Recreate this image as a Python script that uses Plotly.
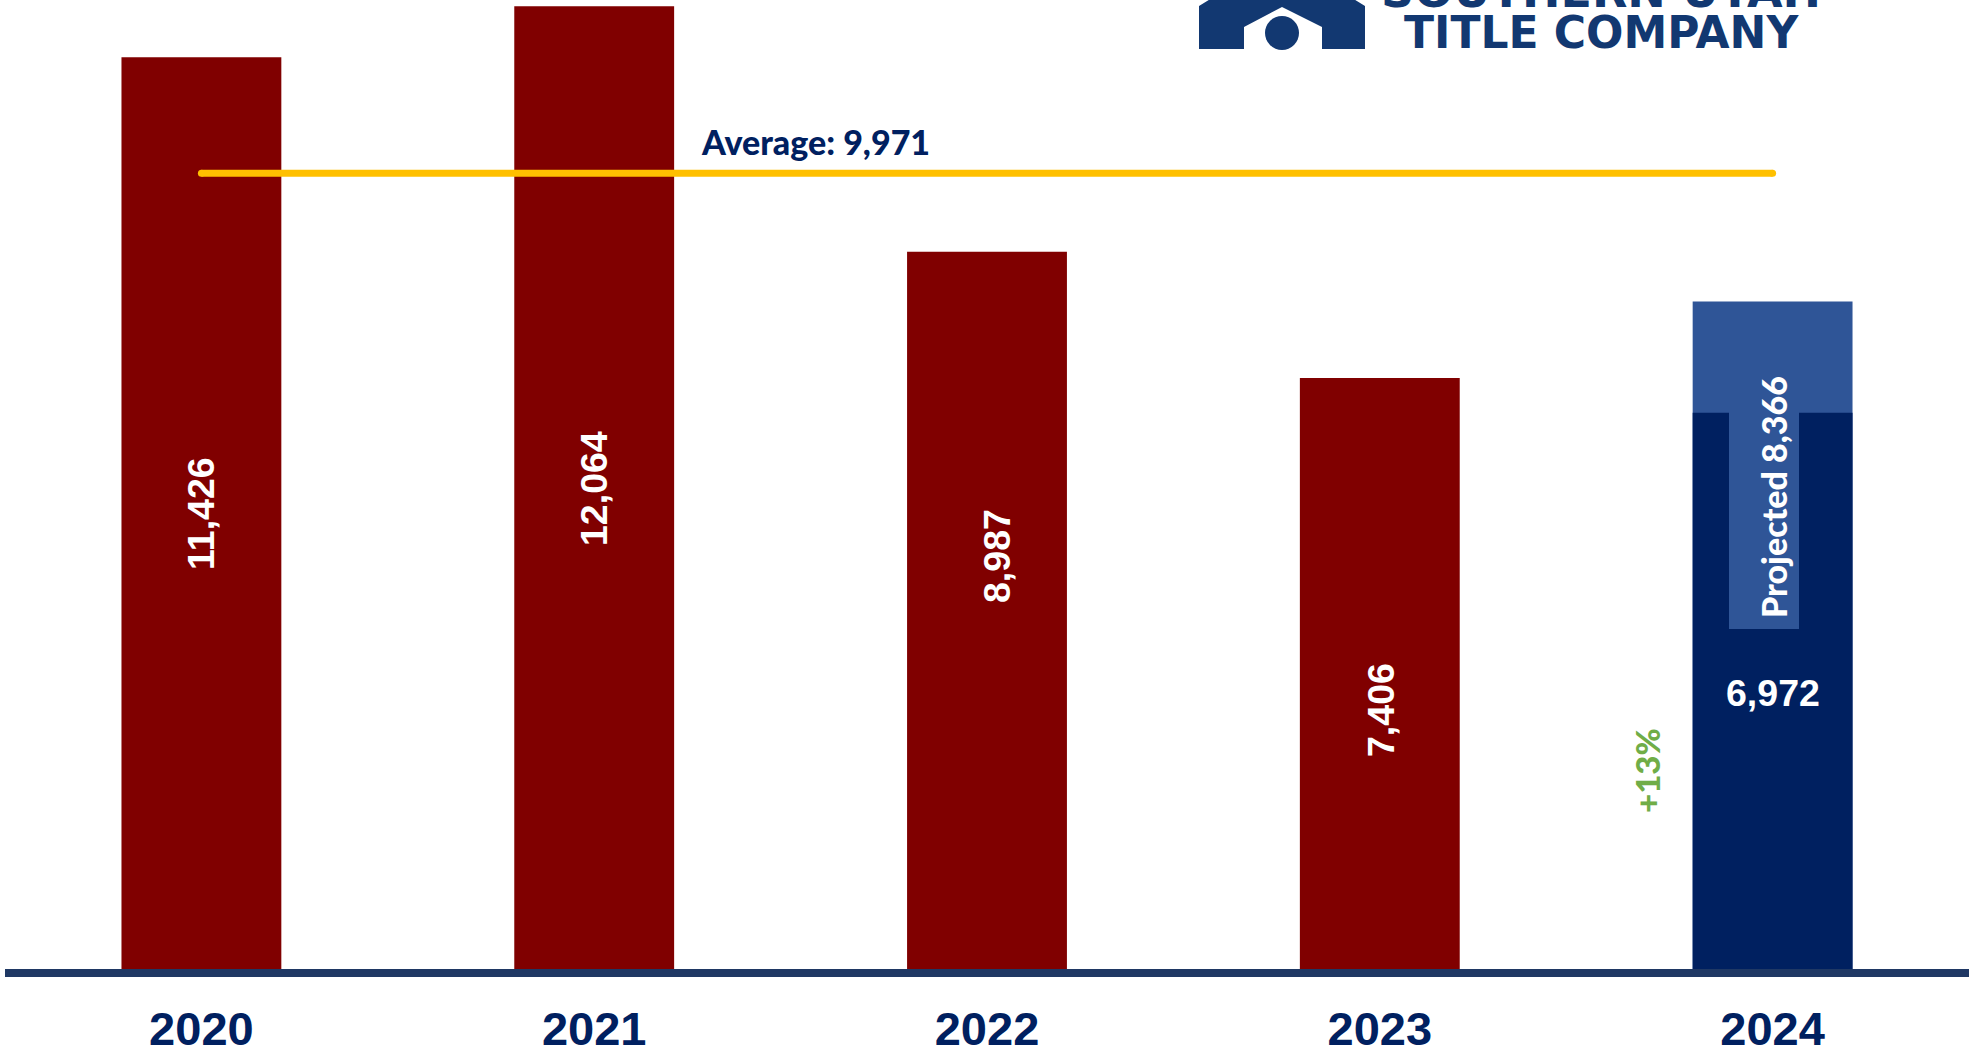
import plotly.graph_objects as go

# Closed-transaction counts by year
years = ["2020", "2021", "2022", "2023", "2024"]
closed = [11426, 12064, 8987, 7406]
closed_years = years[:4]
ytd_2024 = 6972
projected_2024 = 8366
average = 9971
avg_label = "Average: 9,971"
growth_label = "+13%"
bar_labels = ["11,426", "12,064", "8,987", "7,406"]

WIDTH, HEIGHT = 1980, 1050
LEFT, RIGHT, BASE = 5, 1969, 969
PX_PER_UNIT = 0.0798
MAROON, NAVY, MID_BLUE = "#800000", "#002060", "#2F5597"
LOGO_BLUE = "#123871"
SANS = "Liberation Sans, Arial, sans-serif"
HUMANIST = "Lato, Carlito, sans-serif"
LOGO_FONT = "DejaVu Sans, sans-serif"


def px(x):
    return (x - LEFT) / (RIGHT - LEFT)


def py(y):
    return 1 - y / BASE


def note(text, x, y, size, color, font=SANS, angle=0, weight="bold"):
    return dict(
        text=text, xref="paper", yref="paper", x=px(x), y=py(y),
        xanchor="center", yanchor="middle", showarrow=False, textangle=angle,
        font=dict(family=font, size=size, color=color, weight=weight),
    )


fig = go.Figure()
fig.add_bar(x=closed_years, y=closed, marker=dict(color=MAROON, line_width=0), width=0.407, hoverinfo="x+y")
fig.add_bar(x=[years[4]], y=[projected_2024], marker=dict(color=MID_BLUE, line_width=0), width=0.407, hoverinfo="x+y")
fig.add_bar(x=[years[4]], y=[ytd_2024], marker=dict(color=NAVY, line_width=0), width=0.407, hoverinfo="x+y")

# Five-year average, with dots on the ends for rounded caps
fig.add_scatter(
    x=[years[0], years[4]], y=[average, average], mode="lines+markers",
    line=dict(color="#FFC000", width=7), marker=dict(color="#FFC000", size=7),
    hoverinfo="y",
)

shapes = [
    # Backing strip behind the projected label
    dict(type="rect", xref="paper", yref="paper", layer="above",
         x0=px(1729), x1=px(1799), y0=py(629), y1=py(408),
         fillcolor=MID_BLUE, line_width=0),
    # Logo mark: house silhouette with a doorway cut-out
    dict(type="path", xref="paper", yref="paper", layer="above", line_width=0,
         fillcolor=LOGO_BLUE,
         path=(f"M {px(1199)} {py(49)} L {px(1199)} {py(6)} L {px(1212)} {py(-2)} "
               f"L {px(1352)} {py(-2)} L {px(1365)} {py(6)} L {px(1365)} {py(49)} "
               f"L {px(1322)} {py(49)} L {px(1322)} {py(27)} L {px(1282)} {py(7)} "
               f"L {px(1244)} {py(27)} L {px(1244)} {py(49)} Z")),
    dict(type="circle", xref="paper", yref="paper", layer="above", line_width=0,
         fillcolor=LOGO_BLUE, x0=px(1265), x1=px(1299), y0=py(50), y1=py(16)),
]

annotations = [
    note(bar_labels[0], 201, 514, 37.5, "white", angle=-90),
    note(bar_labels[1], 594, 489, 37.5, "white", angle=-90),
    note(bar_labels[2], 997, 556, 37.5, "white", angle=-90),
    note(bar_labels[3], 1381, 710, 37.5, "white", angle=-90),
    note(f"{ytd_2024:,}", 1773, 693, 37.5, "white"),
    note(f"Projected {projected_2024:,}", 1773, 497, 34, "white", font=HUMANIST, angle=-90, weight=900),
    note(growth_label, 1647, 771, 33, "#70AD47", font=HUMANIST, angle=-90, weight=900),
    note(avg_label, 815, 141, 34, NAVY, font=HUMANIST, weight=900),
    note("SOUTHERN UTAH", 1601, -9, 46, LOGO_BLUE, font=LOGO_FONT),
    note("TITLE COMPANY", 1601, 32, 44, LOGO_BLUE, font=LOGO_FONT),
]

fig.update_layout(
    width=WIDTH, height=HEIGHT, autosize=False,
    margin=dict(l=LEFT, r=WIDTH - RIGHT, t=0, b=HEIGHT - BASE),
    paper_bgcolor="white", plot_bgcolor="white",
    barmode="overlay", showlegend=False,
    shapes=shapes, annotations=annotations,
    xaxis=dict(
        type="category", categoryorder="array", categoryarray=years,
        range=[-0.5, 4.5], showgrid=False, zeroline=False, automargin=False,
        showline=True, linecolor="#1F3864", linewidth=8, ticks="",
        ticklabelstandoff=12,
        tickfont=dict(family=SANS, size=47, color=NAVY, weight="bold"),
    ),
    yaxis=dict(range=[0, BASE / PX_PER_UNIT], visible=False, showgrid=False,
               zeroline=False, automargin=False),
)

fig.write_html("out.html", config=dict(displayModeBar=False))
